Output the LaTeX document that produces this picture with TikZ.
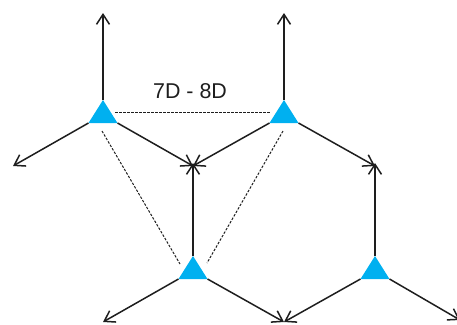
\documentclass[tikz,border=0pt]{standalone}
\usepackage{fontspec}
\setmainfont{Liberation Sans}
\usetikzlibrary{arrows.meta}
\definecolor{mastblue}{RGB}{0,176,240}
\definecolor{ink}{RGB}{30,30,30}
\begin{document}
\begin{tikzpicture}[x=1bp,y=-1bp,
  ray/.style={draw=ink,line width=1.5bp,-{Straight Barb[length=10bp,width=13bp,line width=1.5bp]}},
  guide/.style={draw=ink,line width=1bp,dash pattern=on 2.5bp off 1.5bp},
  mast/.style={fill=mastblue,draw=none}]
\useasboundingbox (0,0) rectangle (457,324);
% triangles: apex, base-left, base-right
\foreach \n/\cx/\ty in {a/103/100, b/284/100, c/193/256, d/375/256}{
  \coordinate (\n-top) at (\cx,\ty);
  \coordinate (\n-l) at ({\cx-14.5},{\ty+23});
  \coordinate (\n-r) at ({\cx+14.5},{\ty+23});
  \fill[mast] (\n-top) -- (\n-l) -- (\n-r) -- cycle;
}
% arrow ends
\coordinate (a-up) at (103,13);
\coordinate (b-up) at (284,13);
\coordinate (p1) at (13,166);
\coordinate (p2) at (193,166);
\coordinate (p3) at (375,166);
\coordinate (q1) at (103,322);
\coordinate (q2) at (284,322);
\coordinate (q3) at (460,320);
\coordinate (c-up) at (193,163);
\coordinate (d-up) at (375,163);
% rays
\draw[ray] (a-top) -- (a-up);
\draw[ray] (a-l) -- (p1);
\draw[ray] (a-r) -- (p2);
\draw[ray] (b-top) -- (b-up);
\draw[ray] (b-l) -- (p2);
\draw[ray] (b-r) -- (p3);
\draw[ray] (c-top) -- (c-up);
\draw[ray] (c-l) -- (q1);
\draw[ray] (c-r) -- (q2);
\draw[ray] (d-top) -- (d-up);
\draw[ray] (d-l) -- (q2);
\draw[ray] (d-r) -- (q3);
% spacing guides
\coordinate (g1) at (115,112);
\coordinate (g2) at (270,112);
\coordinate (g3) at (102,131);
\coordinate (g4) at (180,264);
\coordinate (g5) at (283,131);
\coordinate (g6) at (207,263);
\draw[guide] (g1) -- (g2);
\draw[guide] (g3) -- (g4);
\draw[guide] (g5) -- (g6);
\node[text=ink,font=\fontsize{21.5}{24}\selectfont,inner sep=0pt] (lbl) at (190,91) {7D - 8D};
\end{tikzpicture}
\end{document}
